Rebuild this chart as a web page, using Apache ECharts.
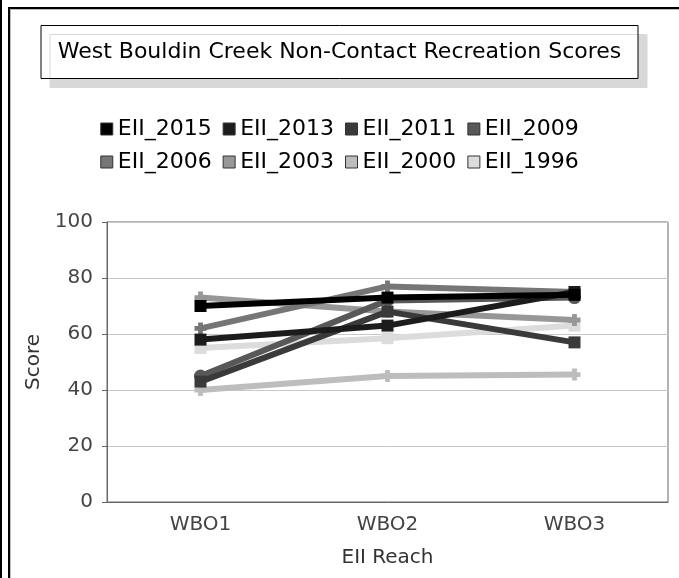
<!DOCTYPE html>
<html><head><meta charset="utf-8">
<script src="https://cdn.jsdelivr.net/npm/echarts@6/dist/echarts.min.js"></script>
<style>html,body{margin:0;padding:0;background:#fff}#c{width:679px;height:578px}</style>
</head><body><div id="c"></div>
<script>
const categories = ['WBO1', 'WBO2', 'WBO3'];
const seriesNames = ['EII_2015', 'EII_2013', 'EII_2011', 'EII_2009', 'EII_2006', 'EII_2003', 'EII_2000', 'EII_1996'];
const eii2015 = [70, 73, 74];
const eii2013 = [58, 63, 75];
const eii2011 = [43, 68, 57];
const eii2009 = [45, 72, 73];
const eii2006 = [62, 77, 75];
const eii2003 = [73, 68, 65];
const eii2000 = [40, 45, 45.5];
const eii1996 = [55, 58.5, 63];
const yTicks = [0, 20, 40, 60, 80, 100];

const values = [eii2015, eii2013, eii2011, eii2009, eii2006, eii2003, eii2000, eii1996];
const colors = ['#000000', '#1c1c1c', '#3a3a3a', '#585858', '#767676', '#979797', '#bdbdbd', '#dcdcdc'];
const plus = 'path://M3,0 L7,0 L7,3 L10,3 L10,7 L7,7 L7,10 L3,10 L3,7 L0,7 L0,3 L3,3 Z';
const symbols = ['rect', 'rect', 'rect', 'circle', plus, plus, plus, 'rect'];
const FONT = 'DejaVu Sans';

const chart = echarts.init(document.getElementById('c'), null, {renderer: 'canvas'});
chart.setOption({
  animation: false,
  backgroundColor: '#fff',
  textStyle: {fontFamily: FONT},
  graphic: [
    {type: 'rect', shape: {x: 0, y: 0, width: 2, height: 578}, style: {fill: '#000'}},
    {type: 'rect', shape: {x: 8, y: 7, width: 2, height: 571}, style: {fill: '#000'}},
    {type: 'rect', shape: {x: 8, y: 7, width: 671, height: 2}, style: {fill: '#000'}},
    {type: 'rect', shape: {x: 10, y: 9, width: 1, height: 569}, style: {fill: '#bbb'}},
    {type: 'rect', shape: {x: 10, y: 9, width: 669, height: 1}, style: {fill: '#bbb'}}
  ],
  title: {
    text: 'West Bouldin Creek Non-Contact Recreation Scores',
    left: 'center', top: 25,
    padding: [15, 17],
    borderColor: '#000', borderWidth: 1,
    backgroundColor: '#fff',
    shadowColor: '#d8d8d8', shadowOffsetX: 9, shadowOffsetY: 9, shadowBlur: 0,
    textStyle: {fontFamily: FONT, fontSize: 22, fontWeight: 'normal', color: '#000', lineHeight: 24}
  },
  legend: {
    data: seriesNames,
    top: 113, left: 'center', width: 540,
    itemWidth: 12, itemHeight: 12, itemGap: 11,
    icon: 'rect',
    textStyle: {fontFamily: FONT, fontSize: 22, color: '#000', lineHeight: 19},
    itemStyle: {borderColor: '#333', borderWidth: 1}
  },
  grid: {left: 107, right: 11, top: 222, bottom: 76, show: true, borderColor: '#666', borderWidth: 1, containLabel: false},
  xAxis: {
    type: 'category', data: categories, boundaryGap: true,
    name: 'EII Reach', nameLocation: 'middle', nameGap: 46,
    nameTextStyle: {fontFamily: FONT, fontSize: 20, color: '#333'},
    axisLine: {lineStyle: {color: '#666'}},
    axisTick: {alignWithLabel: true, length: 5, lineStyle: {color: '#666'}},
    axisLabel: {fontFamily: FONT, fontSize: 20, color: '#444', margin: 13}
  },
  yAxis: {
    type: 'value', min: 0, max: 100, interval: 20,
    name: 'Score', nameLocation: 'middle', nameGap: 60,
    nameTextStyle: {fontFamily: FONT, fontSize: 20, color: '#333'},
    axisLine: {show: true, lineStyle: {color: '#666'}},
    axisTick: {show: true, length: 5, lineStyle: {color: '#666'}},
    axisLabel: {fontFamily: FONT, fontSize: 20, color: '#444', margin: 14,
      formatter: v => yTicks.includes(v) ? String(v) : ''},
    splitLine: {lineStyle: {color: '#c8c8c8'}}
  },
  series: seriesNames.map((n, i) => ({
    name: n, type: 'line', data: values[i],
    symbol: symbols[i], symbolSize: symbols[i] === 'circle' ? 13 : 12,
    showSymbol: true,
    lineStyle: {width: 6, color: colors[i]},
    itemStyle: {color: colors[i]},
    z: 10 - i
  }))
});
</script></body></html>
